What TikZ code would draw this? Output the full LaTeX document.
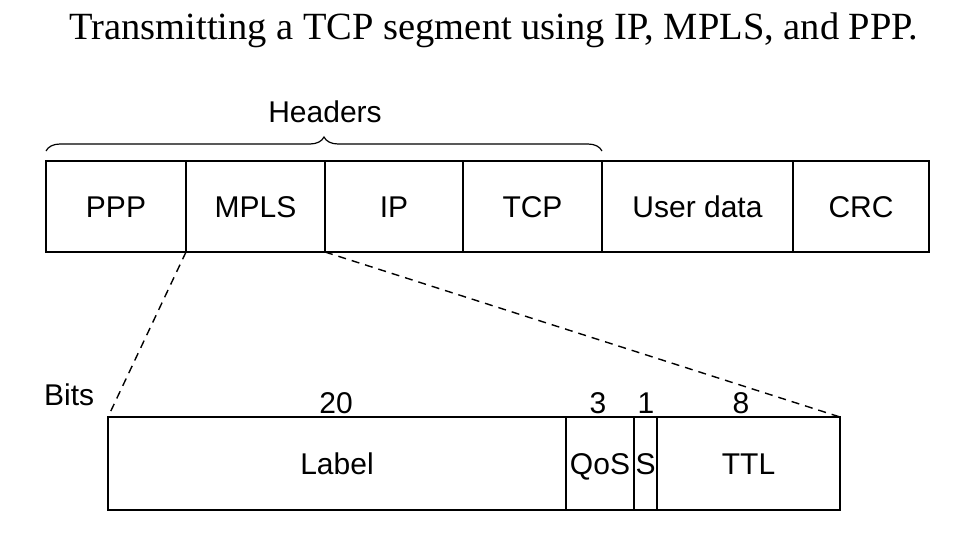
\documentclass[tikz,border=0pt]{standalone}
\usepackage{fontspec}
\setmainfont{Liberation Serif}
\newfontfamily\arialf{Liberation Sans}
\usetikzlibrary{decorations.pathreplacing}
\begin{document}
\begin{tikzpicture}[x=1pt,y=-1pt,
  cell/.style={draw, line width=1.3pt, inner sep=0pt, outer sep=0pt, text height=21pt, text depth=0pt, font=\arialf\fontsize{30}{34}\selectfont},
  toprow/.style={cell, minimum height=91pt},
  botrow/.style={cell, minimum height=93pt},
  lbl/.style={inner sep=0pt, font=\arialf\fontsize{30}{34}\selectfont},
  zoomline/.style={line width=1.4pt, dash pattern=on 8pt off 6pt}]
\useasboundingbox (0,0) rectangle (974,543);
\node[inner sep=0pt, font=\fontsize{38.5}{44}\selectfont, anchor=base] (title) at (494,40) {Transmitting a TCP segment using IP, MPLS, and PPP.};
% top row
\node[toprow, minimum width=140pt] (ppp) at (116,206.5) {PPP};
\node[toprow, minimum width=139pt] (mpls) at (255.5,206.5) {MPLS};
\node[toprow, minimum width=138pt] (ip) at (394,206.5) {IP};
\node[toprow, minimum width=139pt] (tcp) at (532.5,206.5) {TCP};
\node[toprow, minimum width=191pt] (user) at (697.5,206.5) {User data};
\node[toprow, minimum width=136pt] (crc) at (861,206.5) {CRC};
% brace
\draw[line width=1.2pt, decorate, decoration={brace, amplitude=14pt, aspect=0.5}] ([yshift=10pt]ppp.north west) -- ([yshift=10pt]tcp.north east);
\node[lbl, anchor=base] (headers) at (325,122) {Headers};
% bottom row
\node[botrow, minimum width=458pt] (label) at (337,463.5) {Label};
\node[botrow, minimum width=68pt] (qos) at (600,463.5) {QoS};
\node[botrow, minimum width=23pt] (s) at (645.5,463.5) {S};
\node[botrow, minimum width=183pt] (ttl) at (748.5,463.5) {TTL};
% numbers
\node[lbl, anchor=base] (n20) at (336,413) {20};
\node[lbl, anchor=base] (n3) at (598,413) {3};
\node[lbl, anchor=base] (n1) at (646,413) {1};
\node[lbl, anchor=base] (n8) at (741,413) {8};
\node[lbl, anchor=base west] (bits) at (44,405) {Bits};
% dashed expansion lines
\draw[zoomline] (mpls.south west) -- (label.north west);
\draw[zoomline] (mpls.south east) -- (ttl.north east);
\end{tikzpicture}
\end{document}
